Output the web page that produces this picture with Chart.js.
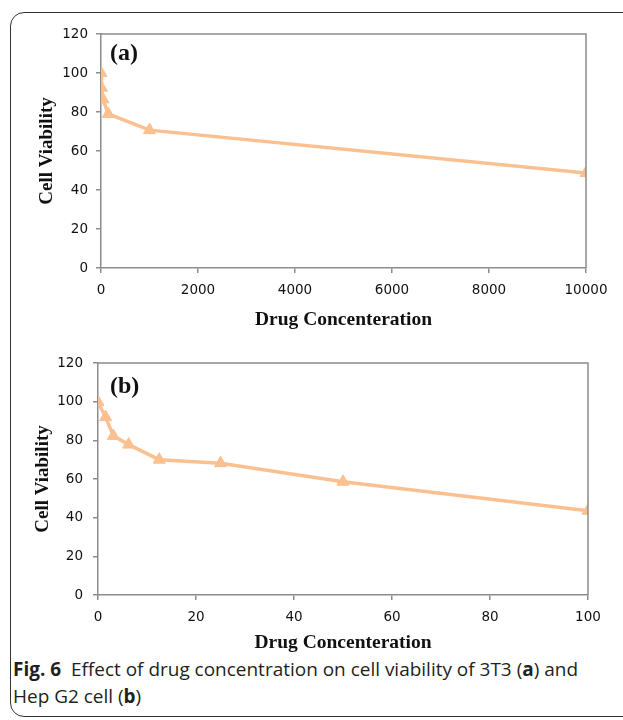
<!DOCTYPE html>
<html lang="en">
<head>
<meta charset="utf-8">
<title>Fig. 6 cell viability</title>
<script src="https://cdn.jsdelivr.net/npm/chart.js@4/dist/chart.umd.min.js"></script>
<style>
  body { margin: 0; background: #fff; width: 623px; height: 720px; overflow: hidden; position: relative; }
  .frame { position: absolute; left: 10px; top: 12px; width: 660px; height: 703px;
           border: 1.5px solid #333; border-radius: 14px; }
  .holder { position: absolute; left: 0; width: 623px; }
  .panel { position: absolute; left: 110px; font: bold 24px "Liberation Serif", serif; line-height: 24px; color: #111; }
  .caption { position: absolute; left: 13px; top: 656px; font: 19px "Open Sans", sans-serif;
             line-height: 27px; color: #231f20; white-space: nowrap; }
  .caption span { display: inline-block; transform-origin: left center; }
</style>
</head>
<body>
<div class="frame"></div>
<div class="holder" style="top:0;height:335px"><canvas id="chartA"></canvas></div>
<div class="holder" style="top:335px;height:320px"><canvas id="chartB"></canvas></div>
<div class="panel" style="top:40px">(a)</div>
<div class="panel" style="top:373px">(b)</div>
<div class="caption">
  <span id="cap1"><b>Fig. 6</b>&nbsp; Effect of drug concentration on cell viability of 3T3 (<b>a</b>) and</span><br>
  <span id="cap2">Hep G2 cell (<b>b</b>)</span>
</div>
<script>
  // 3T3 cells (a)
  var concA = [0, 10, 40, 150, 1000, 10000];
  var viabA = [100, 92.5, 86.5, 79, 70.7, 48.7];
  // Hep G2 cells (b)
  var concB = [0, 1.56, 3.125, 6.25, 12.5, 25, 50, 100];
  var viabB = [99.8, 92, 82.3, 77.8, 70, 68.2, 58.6, 43.6];

  var yTicks = { min: 0, max: 120, step: 20 };
  var xTicksA = { min: 0, max: 10000, step: 2000 };
  var xTicksB = { min: 0, max: 100, step: 20 };

  var lineColor = '#FAC090';
  var axisColor = '#8c8c8c';

  function toPoints(xs, ys) {
    return xs.map(function (x, i) { return { x: x, y: ys[i] }; });
  }

  // draws the top and right edges of the plot box
  var boxPlugin = {
    id: 'plotBox',
    afterDraw: function (chart) {
      var a = chart.chartArea, ctx = chart.ctx;
      ctx.save();
      ctx.strokeStyle = axisColor;
      ctx.lineWidth = 1.5;
      ctx.beginPath();
      ctx.moveTo(a.left, a.top);
      ctx.lineTo(a.right, a.top);
      ctx.lineTo(a.right, a.bottom);
      ctx.stroke();
      ctx.restore();
    }
  };

  function makeConfig(xs, ys, xt, s) {
    return {
      type: 'line',
      data: {
        datasets: [{
          data: toPoints(xs, ys),
          borderColor: lineColor,
          backgroundColor: lineColor,
          borderWidth: 3.5,
          tension: 0,
          pointStyle: 'triangle',
          pointRadius: 7,
          pointBorderWidth: 1
        }]
      },
      options: {
        responsive: true,
        maintainAspectRatio: false,
        animation: false,
        layout: { padding: { left: 0, top: s.top, right: s.right, bottom: 0 } },
        plugins: { legend: { display: false }, tooltip: { enabled: false } },
        scales: {
          x: {
            type: 'linear',
            min: xt.min, max: xt.max,
            afterFit: function (sc) { sc.height = s.xh; },
            grid: { drawOnChartArea: false, tickLength: 5, tickColor: axisColor, lineWidth: 1.5 },
            border: { color: axisColor, width: 1.5 },
            ticks: {
              stepSize: xt.step, padding: 9, color: '#111', maxRotation: 0,
              font: { family: 'DejaVu Sans', size: 13.5 },
              callback: function (v) { return String(v); }
            },
            title: {
              display: true, text: 'Drug Concenteration', color: '#111',
              font: { family: 'Liberation Serif', size: 19.5, weight: 'bold' },
              padding: { top: 0, bottom: s.xtp }
            }
          },
          y: {
            min: yTicks.min, max: yTicks.max,
            afterFit: function (sc) { sc.width = s.yw; },
            grid: { drawOnChartArea: false, tickLength: 5, tickColor: axisColor, lineWidth: 1.5 },
            border: { color: axisColor, width: 1.5 },
            ticks: {
              stepSize: yTicks.step, padding: s.ypad, color: '#111',
              font: { family: 'DejaVu Sans', size: 13.5 }
            },
            title: {
              display: true, text: 'Cell Viability', color: '#111',
              font: { family: 'Liberation Serif', size: 19, weight: 'bold' },
              padding: { top: s.ytp, bottom: 0 }
            }
          }
        }
      },
      plugins: [boxPlugin]
    };
  }

  new Chart(document.getElementById('chartA'),
    makeConfig(concA, viabA, xTicksA, { top: 34, right: 37, xh: 67, yw: 101, xtp: 3.4, ytp: 35.6, ypad: 8 }));
  new Chart(document.getElementById('chartB'),
    makeConfig(concB, viabB, xTicksB, { top: 28, right: 35, xh: 60, yw: 98, xtp: 0, ytp: 31.6, ypad: 10 }));

  // squeeze caption to the narrow journal face width
  var c1 = document.getElementById('cap1'), c2 = document.getElementById('cap2');
  var k = 565 / c1.getBoundingClientRect().width;
  c1.style.transform = 'scaleX(' + k + ')';
  c2.style.transform = 'scaleX(' + k + ')';
</script>
</body>
</html>
